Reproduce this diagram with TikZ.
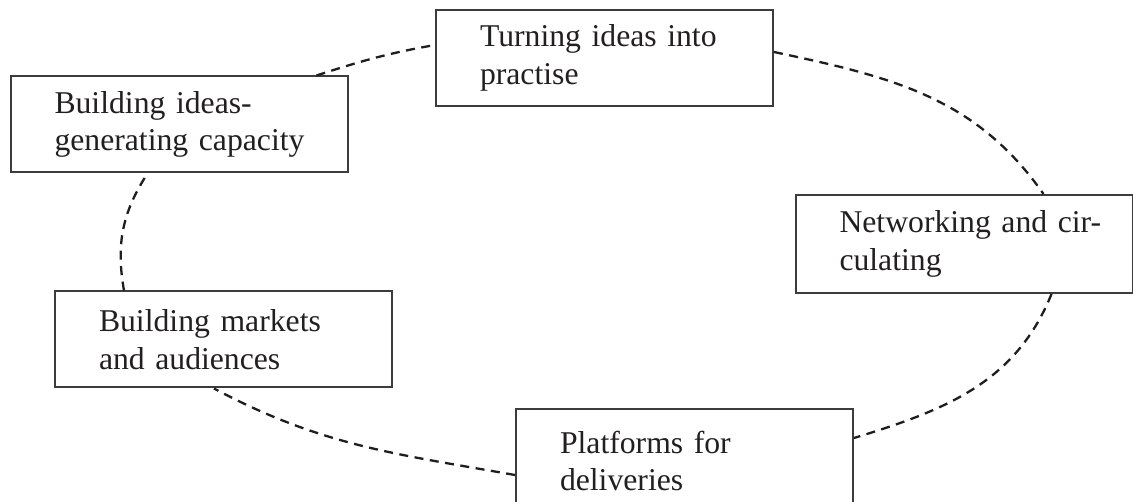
\documentclass[tikz,border=0pt]{standalone}
\usepackage{fontspec}
\setmainfont{Liberation Serif}
\definecolor{boxgray}{HTML}{3C3C3C}
\definecolor{txt}{HTML}{231F20}
\definecolor{dashc}{HTML}{1E1E1E}
\begin{document}
\begin{tikzpicture}[x=1pt,y=-1pt,
  box/.style={draw=boxgray, line width=2pt, rectangle, minimum height=96pt,
    text width=249pt, inner xsep=44pt, inner ysep=0pt, align=left, text=txt,
    font=\fontsize{31.7pt}{37.5pt}\selectfont},
  link/.style={draw=dashc, line width=2.3pt, dash pattern=on 9pt off 6.5pt}]
\useasboundingbox (0,0) rectangle (1133,502);
\node[box] (turn)  at (604.5,58)  {\mbox{Turning ideas into}\\\mbox{practise}};
\node[box] (ideas) at (179,124.5) {\mbox{Building ideas-}\\\mbox{generating capacity}};
\node[box, minimum height=98pt] (net) at (964,244) {\mbox{Networking and cir-}\\\mbox{culating}};
\node[box] (mark)  at (223.5,339.5) {\mbox{Building markets}\\\mbox{and audiences}};
\node[box, minimum height=104pt] (plat) at (684.5,461) {\mbox{Platforms for}\\\mbox{deliveries}};
\draw[link] ([xshift=307pt]ideas.north west) to[out=18,in=190] ([yshift=13pt]turn.west);
\draw[link] ([yshift=6pt]turn.east) to[out=-12,in=125] ([xshift=249pt]net.north west);
\draw[link] ([xshift=257pt]net.south west) to[out=-112,in=17] ([yshift=23pt]plat.east);
\draw[link] ([yshift=-14pt]plat.west) to[out=170,in=-28] ([xshift=160pt]mark.south west);
\draw[link] ([xshift=70pt]mark.north west) to[out=100,in=-123] ([xshift=138pt]ideas.south west);
\end{tikzpicture}
\end{document}
